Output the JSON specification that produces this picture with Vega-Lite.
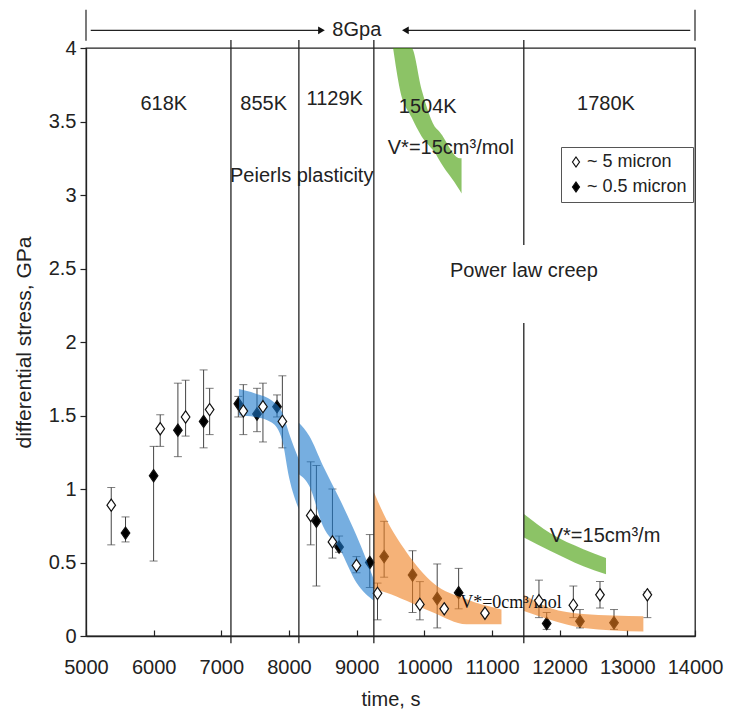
{
  "$schema": "https://vega.github.io/schema/vega-lite/v6.json",
  "width": 609,
  "height": 588,
  "autosize": {"type": "none"},
  "padding": {"left": 86, "top": 48, "right": 34, "bottom": 76},
  "config": {
    "font": "Liberation Sans",
    "view": {"stroke": "#222", "strokeWidth": 1.3},
    "axis": {"grid": false, "domainColor": "#222", "tickColor": "#222", "labelColor": "#222", "titleColor": "#222", "labelFontSize": 20, "titleFontSize": 20, "titleFontWeight": "normal", "domainWidth": 1.3, "tickWidth": 1.2, "labelFont": "Liberation Sans", "titleFont": "Liberation Sans", "labelOverlap": false, "labelFlush": false},
    "legend": {"orient": "none", "legendX": 475, "legendY": 99, "title": null, "strokeColor": "#555", "fillColor": "white", "padding": 6, "labelFontSize": 18, "labelFont": "Liberation Sans", "labelColor": "#222", "symbolType": "M0,-1L0.7,0L0,1L-0.7,0Z", "symbolSize": 100, "symbolStrokeColor": "#111", "symbolStrokeWidth": 1.2, "rowPadding": 7, "labelOffset": 2}
  },
  "datasets": {
    "points": [
      {"t": 5373, "v": 0.89, "lo": 0.62, "hi": 1.01, "grain": "~ 5 micron"},
      {"t": 6097, "v": 1.41, "lo": 1.29, "hi": 1.505, "grain": "~ 5 micron"},
      {"t": 6472, "v": 1.49, "lo": 1.36, "hi": 1.74, "grain": "~ 5 micron"},
      {"t": 6827, "v": 1.54, "lo": 1.37, "hi": 1.685, "grain": "~ 5 micron"},
      {"t": 7325, "v": 1.53, "lo": 1.37, "hi": 1.71, "grain": "~ 5 micron"},
      {"t": 7615, "v": 1.56, "lo": 1.32, "hi": 1.72, "grain": "~ 5 micron"},
      {"t": 7902, "v": 1.46, "lo": 1.28, "hi": 1.77, "grain": "~ 5 micron"},
      {"t": 8321, "v": 0.82, "lo": 0.62, "hi": 1.185, "grain": "~ 5 micron"},
      {"t": 8642, "v": 0.64, "lo": 0.53, "hi": 1.0, "grain": "~ 5 micron"},
      {"t": 8997, "v": 0.48, "lo": 0.43, "hi": 0.54, "grain": "~ 5 micron"},
      {"t": 9308, "v": 0.29, "lo": 0.11, "hi": 0.36, "grain": "~ 5 micron"},
      {"t": 9934, "v": 0.215, "lo": 0.11, "hi": 0.37, "grain": "~ 5 micron"},
      {"t": 10294, "v": 0.185, "lo": null, "hi": null, "grain": "~ 5 micron"},
      {"t": 10896, "v": 0.155, "lo": null, "hi": null, "grain": "~ 5 micron"},
      {"t": 11694, "v": 0.24, "lo": 0.125, "hi": 0.38, "grain": "~ 5 micron"},
      {"t": 12202, "v": 0.21, "lo": 0.125, "hi": 0.34, "grain": "~ 5 micron"},
      {"t": 12596, "v": 0.28, "lo": 0.19, "hi": 0.37, "grain": "~ 5 micron"},
      {"t": 13296, "v": 0.28, "lo": 0.125, "hi": 0.3, "grain": "~ 5 micron"},
      {"t": 5584, "v": 0.7, "lo": 0.64, "hi": 0.81, "grain": "~ 0.5 micron"},
      {"t": 5999, "v": 1.09, "lo": 0.51, "hi": 1.29, "grain": "~ 0.5 micron"},
      {"t": 6358, "v": 1.4, "lo": 1.22, "hi": 1.72, "grain": "~ 0.5 micron"},
      {"t": 6738, "v": 1.46, "lo": 1.28, "hi": 1.81, "grain": "~ 0.5 micron"},
      {"t": 7251, "v": 1.58, "lo": 1.49, "hi": 1.63, "grain": "~ 0.5 micron"},
      {"t": 7527, "v": 1.51, "lo": 1.39, "hi": 1.685, "grain": "~ 0.5 micron"},
      {"t": 7823, "v": 1.56, "lo": 1.49, "hi": 1.64, "grain": "~ 0.5 micron"},
      {"t": 8405, "v": 0.78, "lo": 0.34, "hi": 1.16, "grain": "~ 0.5 micron"},
      {"t": 8740, "v": 0.605, "lo": 0.57, "hi": 0.68, "grain": "~ 0.5 micron"},
      {"t": 9194, "v": 0.5, "lo": 0.33, "hi": 0.69, "grain": "~ 0.5 micron"},
      {"t": 9406, "v": 0.54, "lo": 0.4, "hi": 0.78, "grain": "~ 0.5 micron"},
      {"t": 9826, "v": 0.415, "lo": 0.16, "hi": 0.58, "grain": "~ 0.5 micron"},
      {"t": 10190, "v": 0.255, "lo": 0.055, "hi": 0.49, "grain": "~ 0.5 micron"},
      {"t": 10507, "v": 0.295, "lo": 0.185, "hi": 0.46, "grain": "~ 0.5 micron"},
      {"t": 11808, "v": 0.085, "lo": 0.045, "hi": 0.16, "grain": "~ 0.5 micron"},
      {"t": 12300, "v": 0.1, "lo": 0.055, "hi": 0.18, "grain": "~ 0.5 micron"},
      {"t": 12803, "v": 0.09, "lo": 0.045, "hi": 0.18, "grain": "~ 0.5 micron"}
    ],
    "bands": [
      {"seg": "blue1", "t": 7260, "lo": 1.5, "hi": 1.68},
      {"seg": "blue1", "t": 7500, "lo": 1.49, "hi": 1.65},
      {"seg": "blue1", "t": 7750, "lo": 1.45, "hi": 1.6},
      {"seg": "blue1", "t": 7900, "lo": 1.33, "hi": 1.52},
      {"seg": "blue1", "t": 8000, "lo": 1.08, "hi": 1.38},
      {"seg": "blue1", "t": 8146, "lo": 0.86, "hi": 1.2},
      {"seg": "blue2", "t": 8146, "lo": 1.1, "hi": 1.45},
      {"seg": "blue2", "t": 8300, "lo": 1.02, "hi": 1.36},
      {"seg": "blue2", "t": 8500, "lo": 0.75, "hi": 1.16},
      {"seg": "blue2", "t": 8750, "lo": 0.59, "hi": 0.93},
      {"seg": "blue2", "t": 9000, "lo": 0.36, "hi": 0.68},
      {"seg": "blue2", "t": 9254, "lo": 0.24, "hi": 0.385},
      {"seg": "orange1", "t": 9254, "lo": 0.32, "hi": 0.98},
      {"seg": "orange1", "t": 9441, "lo": 0.295, "hi": 0.79},
      {"seg": "orange1", "t": 9737, "lo": 0.24, "hi": 0.57},
      {"seg": "orange1", "t": 10130, "lo": 0.16, "hi": 0.36},
      {"seg": "orange1", "t": 10623, "lo": 0.08, "hi": 0.25},
      {"seg": "orange1", "t": 11140, "lo": 0.08, "hi": 0.18},
      {"seg": "orange2", "t": 11472, "lo": 0.17, "hi": 0.28},
      {"seg": "orange2", "t": 11857, "lo": 0.11, "hi": 0.19},
      {"seg": "orange2", "t": 12350, "lo": 0.055, "hi": 0.15},
      {"seg": "orange2", "t": 13237, "lo": 0.03, "hi": 0.135},
      {"seg": "green1", "t": 9538, "lo": 4.0, "hi": 4.0},
      {"seg": "green1", "t": 9638, "lo": 3.72, "hi": 4.0},
      {"seg": "green1", "t": 9810, "lo": 3.53, "hi": 4.0},
      {"seg": "green1", "t": 9958, "lo": 3.4, "hi": 3.72},
      {"seg": "green1", "t": 10180, "lo": 3.27, "hi": 3.45},
      {"seg": "green1", "t": 10204, "lo": 3.25, "hi": 3.44},
      {"seg": "green1", "t": 10525, "lo": 3.03, "hi": 3.25},
      {"seg": "green1", "t": 10550, "lo": 3.01, "hi": 3.25},
      {"seg": "green2", "t": 11472, "lo": 0.67, "hi": 0.83},
      {"seg": "green2", "t": 11857, "lo": 0.58, "hi": 0.7},
      {"seg": "green2", "t": 12350, "lo": 0.475, "hi": 0.59},
      {"seg": "green2", "t": 12685, "lo": 0.42, "hi": 0.53}
    ],
    "vlines": [
      {"t": 7142, "v": -0.05, "v2": 4.055},
      {"t": 8146, "v": -0.05, "v2": 4.055},
      {"t": 9254, "v": -0.05, "v2": 4.055},
      {"t": 11470, "v": -0.05, "v2": 2.13},
      {"t": 11470, "v": 2.66, "v2": 4.055}
    ],
    "header": [
      {"t": 5000, "t2": 5000, "v": 4.05, "v2": 4.26},
      {"t": 14000, "t2": 14000, "v": 4.05, "v2": 4.26},
      {"t": 5070, "t2": 8500, "v": 4.12, "v2": 4.12},
      {"t": 9700, "t2": 13930, "v": 4.12, "v2": 4.12}
    ],
    "arrows": [
      {"t": 8480, "v": 4.12, "dir": "right"},
      {"t": 9720, "v": 4.12, "dir": "left"}
    ],
    "labels": [
      {"t": 6150, "v": 3.62, "label": "618K", "kind": "sans"},
      {"t": 7626, "v": 3.62, "label": "855K", "kind": "sans"},
      {"t": 8676, "v": 3.65, "label": "1129K", "kind": "sans"},
      {"t": 10050, "v": 3.6, "label": "1504K", "kind": "sans"},
      {"t": 12685, "v": 3.62, "label": "1780K", "kind": "sans"},
      {"t": 10392, "v": 3.32, "label": "V*=15cm³/mol", "kind": "sans"},
      {"t": 8188, "v": 3.13, "label": "Peierls plasticity", "kind": "sans"},
      {"t": 11472, "v": 2.48, "label": "Power law creep", "kind": "sans"},
      {"t": 12670, "v": 0.68, "label": "V*=15cm³/m", "kind": "sans"},
      {"t": 9002, "v": 4.12, "label": "8Gpa", "kind": "sans"},
      {"t": 10530, "v": 0.225, "label": "V*=0cm³/mol", "kind": "serif"}
    ]
  },
  "layer": [
    {
      "data": {"name": "points"},
      "mark": {"type": "rule", "color": "#444", "strokeWidth": 1},
      "encoding": {
        "x": {"field": "t", "type": "quantitative", "scale": {"domain": [5000, 14000], "nice": false, "zero": false},
              "axis": {"title": "time, s", "values": [5000, 6000, 7000, 8000, 9000, 10000, 11000, 12000, 13000, 14000], "format": "d", "tickSize": -6, "labelPadding": 27, "titlePadding": 12}},
        "y": {"field": "lo", "type": "quantitative", "scale": {"domain": [0, 4], "nice": false},
              "axis": {"title": "differential stress, GPa", "values": [0, 0.5, 1, 1.5, 2, 2.5, 3, 3.5, 4], "format": "~g", "tickSize": 6, "labelPadding": 4, "titlePadding": 14, "titleFontSize": 21}},
        "y2": {"field": "hi"}
      }
    },
    {
      "data": {"name": "points"},
      "mark": {"type": "tick", "orient": "horizontal", "color": "#444", "size": 8, "thickness": 1},
      "encoding": {
        "x": {"field": "t", "type": "quantitative", "title": "time, s"},
        "y": {"field": "lo", "type": "quantitative", "title": "differential stress, GPa"}
      }
    },
    {
      "data": {"name": "points"},
      "mark": {"type": "tick", "orient": "horizontal", "color": "#444", "size": 8, "thickness": 1},
      "encoding": {
        "x": {"field": "t", "type": "quantitative", "title": "time, s"},
        "y": {"field": "hi", "type": "quantitative", "title": "differential stress, GPa"}
      }
    },
    {
      "data": {"name": "points"},
      "transform": [{"filter": "datum.grain === '~ 0.5 micron'"}],
      "mark": {"type": "point", "shape": "M0,-1L0.7,0L0,1L-0.7,0Z", "size": 150, "filled": true, "stroke": "#111", "strokeWidth": 1.2, "opacity": 1},
      "encoding": {
        "x": {"field": "t", "type": "quantitative", "title": "time, s"},
        "y": {"field": "v", "type": "quantitative", "title": "differential stress, GPa"},
        "fill": {"field": "grain", "type": "nominal", "scale": {"domain": ["~ 5 micron", "~ 0.5 micron"], "range": ["white", "black"]}}
      }
    },
    {
      "data": {"name": "bands"},
      "mark": {"type": "area", "opacity": 0.6, "interpolate": "monotone"},
      "encoding": {
        "x": {"field": "t", "type": "quantitative", "title": "time, s"},
        "y": {"field": "hi", "type": "quantitative", "title": "differential stress, GPa"},
        "y2": {"field": "lo"},
        "color": {"field": "seg", "type": "nominal", "legend": null,
                  "scale": {"domain": ["blue1", "blue2", "orange1", "orange2", "green1", "green2"], "range": ["#1a78cc", "#1a78cc", "#ee7f1e", "#ee7f1e", "#3f9b00", "#3f9b00"]}}
      }
    },
    {
      "data": {"name": "labels"},
      "transform": [{"filter": "datum.kind === 'serif'"}],
      "mark": {"type": "text", "font": "Liberation Serif", "fontSize": 18, "align": "left", "baseline": "middle", "color": "#111"},
      "encoding": {
        "x": {"field": "t", "type": "quantitative", "title": "time, s"},
        "y": {"field": "v", "type": "quantitative", "title": "differential stress, GPa"},
        "text": {"field": "label"}
      }
    },
    {
      "data": {"name": "points"},
      "transform": [{"filter": "datum.grain === '~ 5 micron'"}],
      "mark": {"type": "point", "shape": "M0,-1L0.7,0L0,1L-0.7,0Z", "size": 150, "filled": true, "stroke": "#111", "strokeWidth": 1.2, "opacity": 1},
      "encoding": {
        "x": {"field": "t", "type": "quantitative", "title": "time, s"},
        "y": {"field": "v", "type": "quantitative", "title": "differential stress, GPa"},
        "fill": {"field": "grain", "type": "nominal", "scale": {"domain": ["~ 5 micron", "~ 0.5 micron"], "range": ["white", "black"]}}
      }
    },
    {
      "data": {"name": "vlines"},
      "mark": {"type": "rule", "color": "#222", "strokeWidth": 1.3},
      "encoding": {
        "x": {"field": "t", "type": "quantitative", "title": "time, s"},
        "y": {"field": "v", "type": "quantitative", "title": "differential stress, GPa"},
        "y2": {"field": "v2"}
      }
    },
    {
      "data": {"name": "header"},
      "mark": {"type": "rule", "color": "#222", "strokeWidth": 1.2},
      "encoding": {
        "x": {"field": "t", "type": "quantitative", "title": "time, s"},
        "x2": {"field": "t2"},
        "y": {"field": "v", "type": "quantitative", "title": "differential stress, GPa"},
        "y2": {"field": "v2"}
      }
    },
    {
      "data": {"name": "arrows"},
      "mark": {"type": "point", "filled": true, "size": 60, "color": "#111", "opacity": 1},
      "encoding": {
        "x": {"field": "t", "type": "quantitative", "title": "time, s"},
        "y": {"field": "v", "type": "quantitative", "title": "differential stress, GPa"},
        "shape": {"field": "dir", "type": "nominal", "legend": null, "scale": {"domain": ["right", "left"], "range": ["triangle-right", "triangle-left"]}}
      }
    },
    {
      "data": {"name": "labels"},
      "transform": [{"filter": "datum.kind === 'sans'"}],
      "mark": {"type": "text", "font": "Liberation Sans", "fontSize": 20, "align": "center", "baseline": "middle", "color": "#222"},
      "encoding": {
        "x": {"field": "t", "type": "quantitative", "title": "time, s"},
        "y": {"field": "v", "type": "quantitative", "title": "differential stress, GPa"},
        "text": {"field": "label"}
      }
    }
  ]
}
